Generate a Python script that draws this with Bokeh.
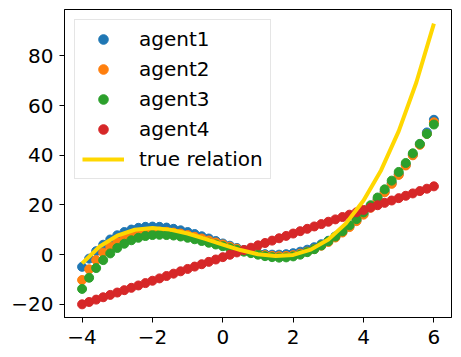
from bokeh.plotting import figure
from bokeh.models import Range1d, FixedTicker
from bokeh.embed import file_html
from bokeh.resources import INLINE

# ---- data ----
x_pts = [-4.0, -3.8, -3.6, -3.4, -3.2, -3.0, -2.8, -2.6, -2.4, -2.2,
         -2.0, -1.8, -1.6, -1.4, -1.2, -1.0, -0.8, -0.6, -0.4, -0.2,
         0.0, 0.2, 0.4, 0.6, 0.8, 1.0, 1.2, 1.4, 1.6, 1.8,
         2.0, 2.2, 2.4, 2.6, 2.8, 3.0, 3.2, 3.4, 3.6, 3.8,
         4.0, 4.2, 4.4, 4.6, 4.8, 5.0, 5.2, 5.4, 5.6, 5.8, 6.0]

agent1 = [-4.9, -1.6, 1.4, 4.0, 6.1, 7.8, 9.1, 10.1, 10.8, 11.2,
          11.3, 11.2, 10.9, 10.4, 9.8, 9.1, 8.3, 7.4, 6.5, 5.5,
          4.5, 3.6, 2.7, 1.9, 1.2, 0.6, 0.2, 0.0, 0.0, 0.2,
          0.6, 1.2, 2.0, 3.0, 4.2, 5.6, 7.3, 9.2, 11.4, 13.8,
          16.4, 19.2, 22.2, 25.4, 28.8, 32.4, 36.2, 40.2, 44.5, 49.2, 54.3]

agent2 = [-10.2, -5.9, -2.2, 0.8, 3.2, 5.0, 6.5, 7.6, 8.4, 8.9,
          9.2, 9.3, 9.2, 8.9, 8.5, 7.9, 7.2, 6.5, 5.7, 4.9,
          4.1, 3.2, 2.4, 1.6, 0.9, 0.3, -0.2, -0.5, -0.6, -0.5,
          -0.2, 0.4, 1.2, 2.3, 3.6, 5.1, 6.9, 8.9, 11.1, 13.5,
          16.1, 18.9, 21.9, 25.1, 28.5, 32.1, 35.9, 40.0, 44.2, 48.6, 53.3]

agent3 = [-13.8, -9.3, -5.4, -2.2, 0.5, 2.7, 4.4, 5.8, 6.8, 7.5,
          7.9, 8.0, 7.9, 7.7, 7.3, 6.8, 6.2, 5.5, 4.8, 4.1,
          3.4, 2.6, 1.9, 1.2, 0.6, 0.0, -0.6, -1.0, -1.2, -1.1,
          -0.7, 0.0, 1.0, 2.2, 3.7, 5.4, 7.3, 9.4, 11.8, 14.3,
          17.0, 19.9, 23.0, 26.3, 29.8, 33.3, 36.9, 40.8, 44.6, 48.6, 52.4]

agent4 = [-20.0, -19.05, -18.1, -17.15, -16.2, -15.25, -14.3, -13.35, -12.4, -11.45,
          -10.5, -9.55, -8.6, -7.65, -6.7, -5.75, -4.8, -3.85, -2.9, -1.95,
          -1.0, -0.05, 0.9, 1.85, 2.8, 3.75, 4.7, 5.65, 6.6, 7.55,
          8.5, 9.45, 10.4, 11.35, 12.3, 13.25, 14.2, 15.15, 16.1, 17.05,
          18.0, 18.95, 19.9, 20.85, 21.8, 22.75, 23.7, 24.65, 25.6, 26.55, 27.5]

x_true = [-4.0, -3.5, -3.0, -2.5, -2.0, -1.5, -1.0, -0.5, 0.0, 0.5,
          1.0, 1.5, 2.0, 2.5, 3.0, 3.5, 4.0, 4.5, 5.0, 5.5, 6.0]
y_true = [-3.5, 3.29, 7.68, 10.02, 10.70, 10.08, 8.51, 6.37, 4.03, 1.85,
          0.19, -0.58, -0.09, 2.02, 6.13, 12.59, 21.77, 34.03, 49.76, 69.30, 93.02]

series_names = ["agent1", "agent2", "agent3", "agent4"]
series_colors = ["#1f77b4", "#ff7f0e", "#2ca02c", "#d62728"]
true_label = "true relation"

x_ticks = [-4, -2, 0, 2, 4, 6]
y_ticks = [-20, 0, 20, 40, 60, 80]

FONT = "DejaVu Sans"
FS = "20px"

p = figure(width=461, height=357, output_backend="svg", toolbar_location=None,
           x_range=Range1d(-4.5, 6.5), y_range=Range1d(-25.3, 98.7),
           min_border_left=64, min_border_right=10, min_border_top=9, min_border_bottom=40)

for name, col, ys in zip(series_names, series_colors, [agent1, agent2, agent3, agent4]):
    p.scatter(x_pts, ys, size=9, color=col, line_color=col, legend_label=name)

p.line(x_true, y_true, line_color="gold", line_width=4, line_join="round",
       legend_label=true_label)

p.xgrid.visible = False
p.ygrid.visible = False
p.outline_line_color = "black"
p.outline_line_width = 1
p.outline_line_alpha = 1

def minus(v):
    return str(v).replace("-", "\u2212")

for ax, ticks in ((p.xaxis[0], x_ticks), (p.yaxis[0], y_ticks)):
    ax.ticker = FixedTicker(ticks=ticks)
    ax.major_label_overrides = {t: minus(t) for t in ticks}
    ax.minor_tick_line_color = None
    ax.major_tick_in = 0
    ax.major_tick_out = 5
    ax.major_tick_line_color = "black"
    ax.axis_line_color = "black"
    ax.major_label_text_font = FONT
    ax.major_label_text_font_size = FS
    ax.major_label_text_color = "black"
    ax.major_label_standoff = 6
p.xaxis[0].major_label_standoff = 7

lg = p.legend[0]
lg.location = "top_left"
lg.margin = 10
lg.padding = 7
lg.spacing = 6
lg.glyph_width = 42
lg.glyph_height = 24
lg.label_height = 24
lg.label_standoff = 15
lg.label_text_font = FONT
lg.label_text_font_size = FS
lg.label_text_color = "black"
lg.border_line_color = "#cccccc"
lg.border_line_width = 1
lg.background_fill_alpha = 0.8

open("out.html", "w").write(file_html(p, INLINE))
